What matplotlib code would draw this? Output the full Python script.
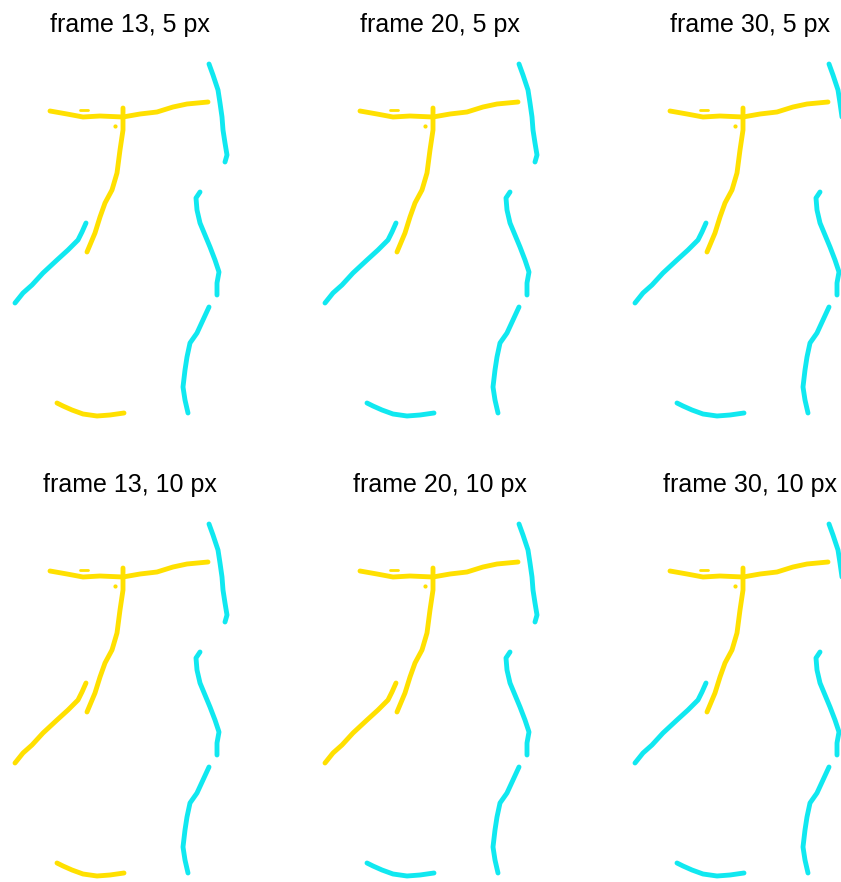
import matplotlib.pyplot as plt
import numpy as np

plt.rcParams['font.family'] = ['Liberation Sans', 'DejaVu Sans']

YELLOW = "#FFE000"
CYAN = "#10E8F0"

# traced segments, panel-local pixel coordinates (y grows downward)
bar_x = [50, 67, 83, 100, 123, 140, 157, 173, 187, 208]
bar_y = [61, 64, 67, 66, 67, 64, 62, 57, 54, 52]
dash_x = [80, 88]
dash_y = [60, 60]
stem_x = [123, 123, 120, 117, 112, 105, 100, 95, 87]
stem_y = [58, 80, 100, 123, 140, 153, 167, 183, 202]
arm_x = [86, 82, 78, 68, 57, 43, 32, 23, 15]
arm_y = [173, 182, 190, 200, 210, 223, 235, 243, 253]
rt_x = [209, 213, 218, 220, 222, 223, 225, 227, 225]
rt_y = [14, 25, 40, 53, 67, 80, 93, 105, 112]
rm_x = [200, 196, 197, 200, 205, 210, 215, 219, 217, 217]
rm_y = [142, 148, 160, 173, 185, 197, 210, 222, 233, 245]
rb_x = [209, 203, 197, 190, 187, 185, 183, 185, 188]
rb_y = [257, 270, 283, 293, 307, 320, 337, 350, 363]
foot_x = [57, 63, 72, 83, 97, 110, 124]
foot_y = [353, 356, 360, 364, 366, 365, 363]

titles = ["frame 13, 5 px", "frame 20, 5 px", "frame 30, 5 px",
          "frame 13, 10 px", "frame 20, 10 px", "frame 30, 10 px"]
# labels of the two segments that change between panels
arm_colors = [CYAN, CYAN, CYAN, YELLOW, YELLOW, CYAN]
foot_colors = [YELLOW, CYAN, CYAN, YELLOW, CYAN, CYAN]

W, H = 841, 882
fig = plt.figure(figsize=(W / 100, H / 100), dpi=100)

for i, title in enumerate(titles):
    row, col = divmod(i, 3)
    left = col * 310
    top = 50 + row * 460
    ax = fig.add_axes([left / W, 1 - (top + 380) / H, 260 / W, 380 / H])
    ax.set_xlim(0, 260)
    ax.set_ylim(380, 0)
    ax.axis("off")

    kw = dict(lw=3.5, solid_capstyle="round", solid_joinstyle="round", clip_on=False)
    ax.plot(bar_x, bar_y, color=YELLOW, **kw)
    ax.plot(dash_x, dash_y, color=YELLOW, lw=2, solid_capstyle="round", clip_on=False)
    ax.plot([115], [76], "o", color=YELLOW, ms=2, clip_on=False)
    ax.plot(stem_x, stem_y, color=YELLOW, **kw)
    ax.plot(arm_x, arm_y, color=arm_colors[i], **kw)
    ax.plot(rt_x, rt_y, color=CYAN, **kw)
    ax.plot(rm_x, rm_y, color=CYAN, **kw)
    ax.plot(rb_x, rb_y, color=CYAN, **kw)
    ax.plot(foot_x, foot_y, color=foot_colors[i], **kw)

    ax.set_title(title, fontsize=18, pad=13)

fig.savefig("out.png", dpi=100, facecolor="white")
